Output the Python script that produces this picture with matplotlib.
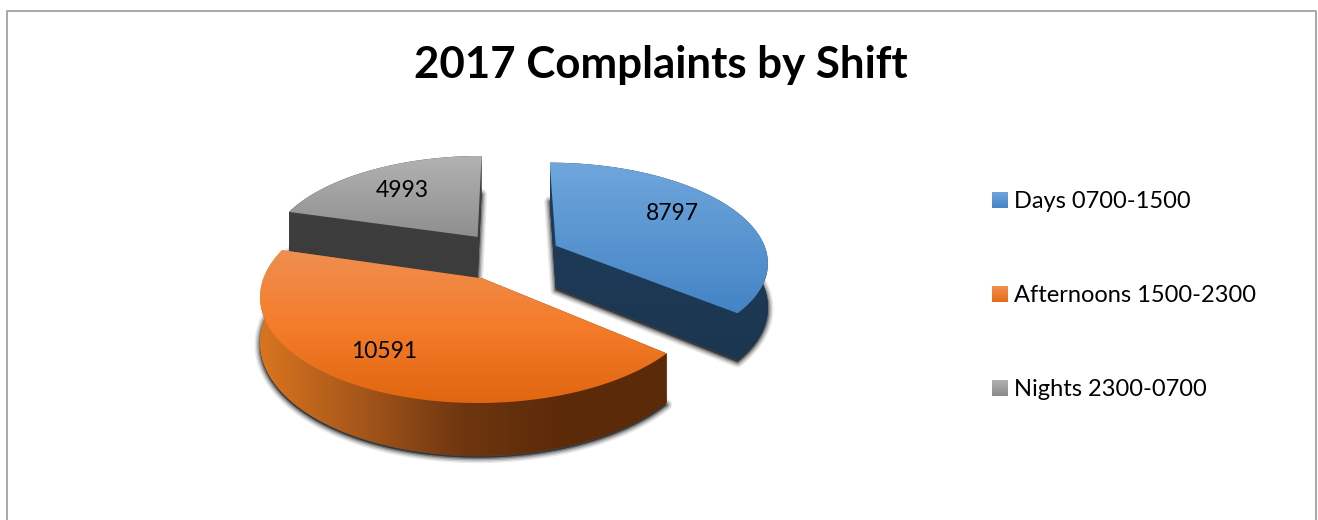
"""
2017 complaints by shift: exploded 3D pie drawn by hand, matplotlib has no 3D pie
"""
import numpy as np
import matplotlib
matplotlib.use('Agg')
import matplotlib.pyplot as plt
from matplotlib.colors import LinearSegmentedColormap
from matplotlib.patches import Polygon

plt.rcParams['font.family'] = ['Lato', 'DejaVu Sans']

# Data
shifts = ['Days 0700-1500', 'Afternoons 1500-2300', 'Nights 2300-0700']
complaints = [8797, 10591, 4993]
title = '2017 Complaints by Shift'

# Colours for each slice
top_colors = [['#6FA6DC', '#4484C5'], ['#EF8F50', '#F47C2A', '#E0660F'], ['#B2B2B2', '#8F8F8F']]
wall_colors = [['#1F3D5C', '#1B3650'], ['#D8751F', '#A5561A', '#6E3610', '#5B2A08', '#5B2A08'], ['#404040', '#3C3C3C']]
legend_colors = [['#6FA6DC', '#4484C5'], ['#F0904F', '#E66C14'], ['#B2B2B2', '#8A8A8A']]

# Label placement: fraction of radius along the bisector, then a nudge in pixels
label_frac = [0.6, 0.8, 0.6]
label_nudge = [(9, -9), (-3, -10), (-8, -5)]

# Projection of the pie plane, pixels
cx, cy = 508.5, 256
rx, ry = 212, 98.4
persp = 0.15
depth = 43
explode = 0.25

fig = plt.figure(figsize=(13.18, 5.2), dpi=100)
ax = fig.add_axes([0, 0, 1, 1])


def project(x, y):
    d = 1 + persp * y
    return cx + rx * x / d, cy - ry * y / d


def gradient_fill(xs, ys, colors, horizontal=False, zorder=2, span=None):
    cmap = LinearSegmentedColormap.from_list('g', colors)
    grad = np.linspace(0, 1, 256)
    grad = grad.reshape(1, -1) if horizontal else grad.reshape(-1, 1)
    extent = span if span is not None else [min(xs), max(xs), max(ys), min(ys)]
    im = ax.imshow(grad, extent=extent, cmap=cmap, aspect='auto', zorder=zorder, origin='upper')
    patch = Polygon(np.column_stack([xs, ys]), closed=True, transform=ax.transData, fc='none', ec='none')
    ax.add_patch(patch)
    im.set_clip_path(patch)


def draw_slice(start, end, top_c, wall_c, z, wall_horizontal):
    mid = (start + end) / 2
    ox, oy = explode * np.sin(mid), explode * np.cos(mid)
    t = np.linspace(start, end, 120)
    px = np.concatenate([[ox], ox + np.sin(t)])
    py = np.concatenate([[oy], oy + np.cos(t)])
    tx, ty = project(px, py)
    bx, by = tx, ty + depth / (1 + persp * py)
    span = [min(tx), max(tx), max(by), min(ty)]

    # soft shadow around the bottom face
    for lw, a in zip([8, 6, 4, 2], [0.08, 0.12, 0.18, 0.3]):
        ax.add_patch(Polygon(np.column_stack([bx, by + 2]), closed=True, fc=(0, 0, 0, a),
                             ec=(0, 0, 0, a), lw=lw, zorder=z, joinstyle='round'))

    # bottom face and radial walls, then the rim, then the top face
    gradient_fill(bx, by, wall_c, wall_horizontal, z + 0.1, span)
    for k in (1, -1):
        gradient_fill([tx[0], tx[k], bx[k], bx[0]], [ty[0], ty[k], by[k], by[0]],
                      wall_c, wall_horizontal, z + 0.2, span)
    gradient_fill(np.concatenate([tx[1:], bx[:0:-1]]), np.concatenate([ty[1:], by[:0:-1]]),
                  wall_c, wall_horizontal, z + 0.3, span)
    gradient_fill(tx, ty, top_c, False, z + 0.4)
    return ox, oy, mid


angles = np.cumsum([0] + complaints) / sum(complaints) * 2 * np.pi

# painter's order: back slices first
for z, i in enumerate([2, 0, 1]):
    ox, oy, mid = draw_slice(angles[i], angles[i + 1], top_colors[i], wall_colors[i], 3 + z, i == 1)
    lx, ly = project(ox + label_frac[i] * np.sin(mid), oy + label_frac[i] * np.cos(mid))
    ax.text(lx + label_nudge[i][0], ly + label_nudge[i][1], str(complaints[i]), fontsize=16.5,
            color='black', ha='center', va='center', zorder=10)

# Legend
legend_y = [200, 294, 388]
for name, y, c in zip(shifts, legend_y, legend_colors):
    gradient_fill([992, 1008, 1008, 992], [y - 8, y - 8, y + 8, y + 8], c, zorder=10)
    ax.text(1014, y + 2, name, fontsize=17, color='black', ha='left', va='center', zorder=10)

ax.text(661, 65, title, fontsize=31.6, fontweight='bold', color='black', ha='center', va='center')

# Chart frame, bottom edge is cropped in the source
ax.plot([6.5, 6.5, 1316, 1316], [520, 10.5, 10.5, 520], color='#A8A8A8', lw=1.4, zorder=1)

ax.set_xlim(0, 1318)
ax.set_ylim(520, 0)
ax.axis('off')
fig.savefig('out.png', dpi=100, facecolor='white')
